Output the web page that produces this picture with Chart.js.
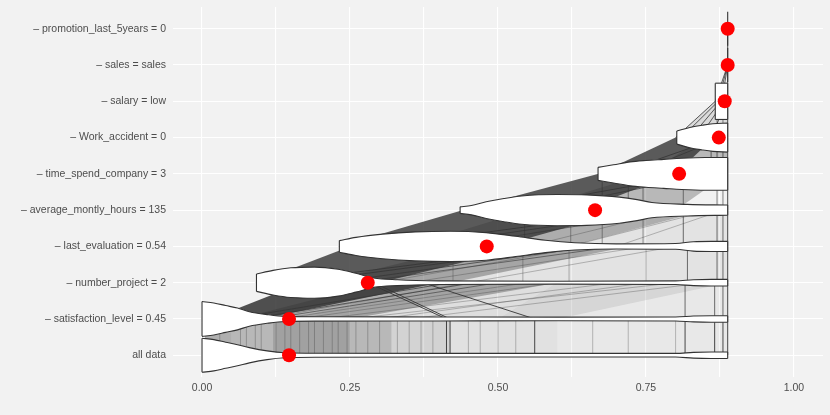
<!DOCTYPE html>
<html>
<head>
<meta charset="utf-8">
<script src="https://cdn.jsdelivr.net/npm/chart.js@4.4.1/dist/chart.umd.min.js"></script>
<style>
html,body{margin:0;padding:0;background:#f2f2f2;}
#wrap{width:830px;height:415px;}
</style>
</head>
<body>
<div id="wrap"><canvas id="chart" width="830" height="415"></canvas></div>
<script>
// levels, bottom to top
const levelLabels = [
  "all data",
  "– satisfaction_level = 0.45",
  "– number_project = 2",
  "– last_evaluation = 0.54",
  "– average_montly_hours = 135",
  "– time_spend_company = 3",
  "– Work_accident = 0",
  "– salary = low",
  "– sales = sales",
  "– promotion_last_5years = 0"
];

// mean prediction at each level (red points)
const meanPred = [0.147, 0.147, 0.280, 0.481, 0.664, 0.806, 0.873, 0.883, 0.888, 0.888];

// violin outlines: prediction values and half widths (in level units)
const violinX = [
  [0, 0.02, 0.04, 0.06, 0.08, 0.11, 0.14, 0.2, 0.4, 0.6, 0.8, 0.83, 0.86, 0.888],
  [0, 0.02, 0.04, 0.06, 0.08, 0.11, 0.14, 0.2, 0.4, 0.6, 0.8, 0.83, 0.86, 0.888],
  [0.092, 0.12, 0.15, 0.19, 0.23, 0.26, 0.29, 0.33, 0.4, 0.6, 0.8, 0.83, 0.86, 0.888],
  [0.232, 0.26, 0.305, 0.36, 0.42, 0.48, 0.53, 0.58, 0.63, 0.7, 0.8, 0.83, 0.86, 0.888],
  [0.436, 0.455, 0.48, 0.51, 0.54, 0.6, 0.65, 0.705, 0.735, 0.76, 0.82, 0.888],
  [0.669, 0.695, 0.723, 0.75, 0.78, 0.81, 0.85, 0.888],
  [0.802, 0.824, 0.845, 0.863, 0.888],
  [0.867, 0.888],
  [0.888],
  [0.888]
];
const violinW = [
  [0.47, 0.43, 0.36, 0.29, 0.21, 0.12, 0.07, 0.055, 0.05, 0.05, 0.05, 0.08, 0.09, 0.09],
  [0.48, 0.44, 0.37, 0.3, 0.2, 0.12, 0.07, 0.06, 0.055, 0.05, 0.055, 0.08, 0.09, 0.09],
  [0.24, 0.34, 0.41, 0.43, 0.37, 0.26, 0.13, 0.08, 0.05, 0.04, 0.05, 0.08, 0.09, 0.09],
  [0.16, 0.25, 0.34, 0.4, 0.42, 0.38, 0.28, 0.17, 0.1, 0.07, 0.08, 0.13, 0.14, 0.14],
  [0.09, 0.13, 0.23, 0.32, 0.39, 0.43, 0.42, 0.36, 0.29, 0.21, 0.16, 0.14],
  [0.18, 0.25, 0.33, 0.37, 0.4, 0.43, 0.45, 0.45],
  [0.18, 0.28, 0.34, 0.38, 0.4],
  [0.5, 0.5],
  [0.47],
  [0.47]
];

// dense bundles of observation paths between level L and L+1:
// [from low, from high, to low, to high, shade]
const fans1 = [
  [0.005, 0.05, 0.005, 0.05, 0.35],
  [0.05, 0.12, 0.05, 0.12, 0.3],
  [0.12, 0.25, 0.12, 0.25, 0.42],
  [0.25, 0.32, 0.25, 0.32, 0.3],
  [0.32, 0.42, 0.32, 0.42, 0.16],
  [0.42, 0.6, 0.42, 0.6, 0.09],
  [0.6, 0.888, 0.6, 0.888, 0.05]
];
const fans2 = [
  [0.015, 0.1, 0.17, 0.4, 0.85],
  [0.06, 0.25, 0.3, 0.6, 0.35],
  [0.15, 0.6, 0.4, 0.888, 0.1],
  [0.5, 0.888, 0.6, 0.888, 0.05]
];
const fans3 = [
  [0.09, 0.3, 0.25, 0.55, 0.8],
  [0.2, 0.42, 0.45, 0.72, 0.35],
  [0.3, 0.888, 0.55, 0.888, 0.08]
];
const fans4 = [
  [0.23, 0.5, 0.44, 0.72, 0.8],
  [0.35, 0.62, 0.55, 0.85, 0.3],
  [0.5, 0.888, 0.65, 0.888, 0.08]
];
const fans5 = [
  [0.44, 0.64, 0.67, 0.8, 0.8],
  [0.55, 0.8, 0.75, 0.888, 0.3]
];
const fans6 = [
  [0.67, 0.8, 0.8, 0.865, 0.8],
  [0.75, 0.888, 0.85, 0.888, 0.3]
];
const fans7 = [
  [0.8, 0.888, 0.867, 0.888, 0.12]
];
const fanSets = [fans1, fans2, fans3, fans4, fans5, fans6, fans7];

// single observation paths between level L and L+1: [from, to, shade]
const links1 = [
  [0.03, 0.03, 0.3], [0.065, 0.065, 0.3], [0.075, 0.075, 0.3], [0.09, 0.09, 0.3],
  [0.1, 0.1, 0.3], [0.125, 0.125, 0.3], [0.14, 0.14, 0.3], [0.15, 0.15, 0.3],
  [0.165, 0.165, 0.3], [0.18, 0.18, 0.3], [0.19, 0.19, 0.3], [0.205, 0.205, 0.3],
  [0.22, 0.22, 0.3], [0.23, 0.23, 0.3], [0.245, 0.245, 0.3], [0.26, 0.26, 0.3],
  [0.28, 0.28, 0.3], [0.3, 0.3, 0.3], [0.33, 0.33, 0.3], [0.35, 0.35, 0.3],
  [0.37, 0.37, 0.3], [0.39, 0.39, 0.3], [0.45, 0.45, 0.3], [0.47, 0.47, 0.3],
  [0.5, 0.5, 0.3], [0.53, 0.53, 0.3], [0.66, 0.66, 0.3], [0.72, 0.72, 0.3],
  [0.8, 0.8, 0.3],
  [0.413, 0.413, 0.9], [0.419, 0.419, 0.9], [0.562, 0.562, 0.9], [0.816, 0.816, 0.9],
  [0.866, 0.866, 0.9], [0.88, 0.88, 0.9], [0.888, 0.888, 0.9]
];
const links2 = [
  [0.413, 0.28, 0.9], [0.419, 0.29, 0.9], [0.562, 0.373, 0.9],
  [0.816, 0.816, 0.7], [0.866, 0.866, 0.7], [0.88, 0.88, 0.7], [0.888, 0.888, 0.9],
  [0.1, 0.45, 0.3], [0.13, 0.55, 0.3], [0.16, 0.6, 0.3], [0.2, 0.7, 0.3],
  [0.25, 0.8, 0.3], [0.3, 0.75, 0.3], [0.35, 0.85, 0.3],
  [0.05, 0.42, 0.7], [0.08, 0.46, 0.7], [0.11, 0.5, 0.6]
];
const links3 = [
  [0.424, 0.424, 0.35], [0.542, 0.542, 0.35], [0.62, 0.62, 0.35], [0.75, 0.75, 0.35],
  [0.82, 0.82, 0.7], [0.87, 0.87, 0.7], [0.88, 0.88, 0.7], [0.888, 0.888, 0.9],
  [0.3, 0.65, 0.3], [0.35, 0.75, 0.3], [0.45, 0.8, 0.3],
  [0.12, 0.6, 0.8], [0.16, 0.62, 0.8], [0.22, 0.66, 0.7], [0.26, 0.7, 0.6]
];
const links4 = [
  [0.545, 0.545, 0.5], [0.623, 0.623, 0.5], [0.676, 0.676, 0.5], [0.745, 0.745, 0.5],
  [0.813, 0.813, 0.7], [0.87, 0.87, 0.7], [0.88, 0.88, 0.7], [0.888, 0.888, 0.9],
  [0.55, 0.8, 0.3], [0.62, 0.86, 0.3], [0.7, 0.88, 0.3],
  [0.3, 0.76, 0.8], [0.36, 0.78, 0.7], [0.42, 0.8, 0.6]
];
const links5 = [
  [0.676, 0.676, 0.6], [0.72, 0.72, 0.6], [0.745, 0.745, 0.6], [0.813, 0.813, 0.6],
  [0.87, 0.87, 0.6], [0.88, 0.88, 0.6], [0.888, 0.888, 0.9],
  [0.5, 0.84, 0.8], [0.56, 0.86, 0.7]
];
const links6 = [
  [0.86, 0.86, 0.7], [0.87, 0.87, 0.7], [0.88, 0.88, 0.7], [0.888, 0.888, 0.9],
  [0.7, 0.875, 0.8], [0.73, 0.88, 0.7]
];
const links7 = [
  [0.8, 0.867, 0.8], [0.81, 0.872, 0.8], [0.825, 0.877, 0.8], [0.84, 0.882, 0.8],
  [0.86, 0.886, 0.8], [0.87, 0.87, 0.6], [0.88, 0.88, 0.6], [0.888, 0.888, 0.9]
];
const links8 = [
  [0.867, 0.888, 0.8], [0.872, 0.888, 0.8], [0.878, 0.888, 0.8], [0.888, 0.888, 0.9]
];
const links9 = [
  [0.888, 0.888, 0.9]
];
const linkSets = [links1, links2, links3, links4, links5, links6, links7, links8, links9];

const xGrid = [0, 0.125, 0.25, 0.375, 0.5, 0.625, 0.75, 0.875, 1];
const xLabelled = [0, 0.25, 0.5, 0.75, 1];

const ink = "#333333";
const datasets = [];

// red mean points on top
datasets.push({
  data: meanPred.map((v, i) => ({x: v, y: i + 1})),
  showLine: false,
  pointRadius: 7,
  pointHoverRadius: 7,
  pointBackgroundColor: "#ff0000",
  pointBorderWidth: 0,
  order: 0
});

// violins
violinX.forEach((xs, i) => {
  const lvl = i + 1;
  const w = violinW[i];
  const n = xs.length - 1;
  datasets.push({
    data: [
      {x: xs[0], y: lvl + w[0]}, {x: xs[0], y: lvl - w[0]},
      {x: null, y: null},
      {x: xs[n], y: lvl + w[n]}, {x: xs[n], y: lvl - w[n]}
    ],
    borderColor: ink, borderWidth: 1.1, pointRadius: 0, fill: false, order: 1
  });
  datasets.push({
    data: xs.map((x, j) => ({x: x, y: lvl + w[j]})),
    borderColor: ink, borderWidth: 1.1, pointRadius: 0, fill: false,
    cubicInterpolationMode: "monotone", order: 1
  });
  datasets.push({
    data: xs.map((x, j) => ({x: x, y: lvl - w[j]})),
    borderColor: ink, borderWidth: 1.1, pointRadius: 0,
    fill: "-1", backgroundColor: "#ffffff",
    cubicInterpolationMode: "monotone", order: 1
  });
});

// single paths
linkSets.forEach((set, i) => {
  const lvl = i + 1;
  set.forEach(l => {
    datasets.push({
      data: [{x: l[0], y: lvl}, {x: l[1], y: lvl + 1}],
      borderColor: "rgba(51,51,51," + l[2] + ")",
      borderWidth: 1, pointRadius: 0, fill: false, order: 3
    });
  });
});

// bundles
fanSets.forEach((set, i) => {
  const lvl = i + 1;
  set.forEach(f => {
    datasets.push({
      data: [
        {x: f[0], y: lvl}, {x: f[1], y: lvl},
        {x: f[3], y: lvl + 1}, {x: f[2], y: lvl + 1}
      ],
      borderWidth: 0, borderColor: "rgba(0,0,0,0)", pointRadius: 0,
      fill: "shape", backgroundColor: "rgba(51,51,51," + f[4] + ")", order: 4
    });
  });
});

Chart.defaults.font.family = "'Liberation Sans', Arial, sans-serif";
Chart.defaults.font.size = 10.5;
Chart.defaults.color = "#4d4d4d";

new Chart(document.getElementById("chart"), {
  type: "line",
  data: {datasets: datasets},
  options: {
    responsive: false,
    animation: false,
    events: [],
    layout: {padding: {left: 0, right: 7, top: 6, bottom: 0}},
    plugins: {legend: {display: false}, tooltip: {enabled: false}},
    scales: {
      x: {
        type: "linear",
        min: -0.049,
        max: 1.049,
        afterBuildTicks: s => { s.ticks = xGrid.map(v => ({value: v})); },
        afterFit: s => { s.height = 38; s.paddingLeft = 0; s.paddingRight = 0; },
        border: {display: false},
        grid: {color: "#ffffff", lineWidth: 1.1, drawTicks: false},
        ticks: {
          autoSkip: false,
          maxRotation: 0,
          padding: 5,
          color: "#4d4d4d",
          callback: v => xLabelled.includes(v) ? v.toFixed(2) : ""
        }
      },
      y: {
        type: "linear",
        min: 0.4,
        max: 10.6,
        afterBuildTicks: s => { s.ticks = levelLabels.map((t, i) => ({value: i + 1})); },
        afterFit: s => { s.width = 173; s.paddingTop = 0; s.paddingBottom = 0; },
        border: {display: false},
        grid: {color: "#ffffff", lineWidth: 1.1, drawTicks: false},
        ticks: {
          autoSkip: false,
          padding: 7,
          color: "#4d4d4d",
          callback: v => levelLabels[v - 1]
        }
      }
    }
  }
});
</script>
</body>
</html>
